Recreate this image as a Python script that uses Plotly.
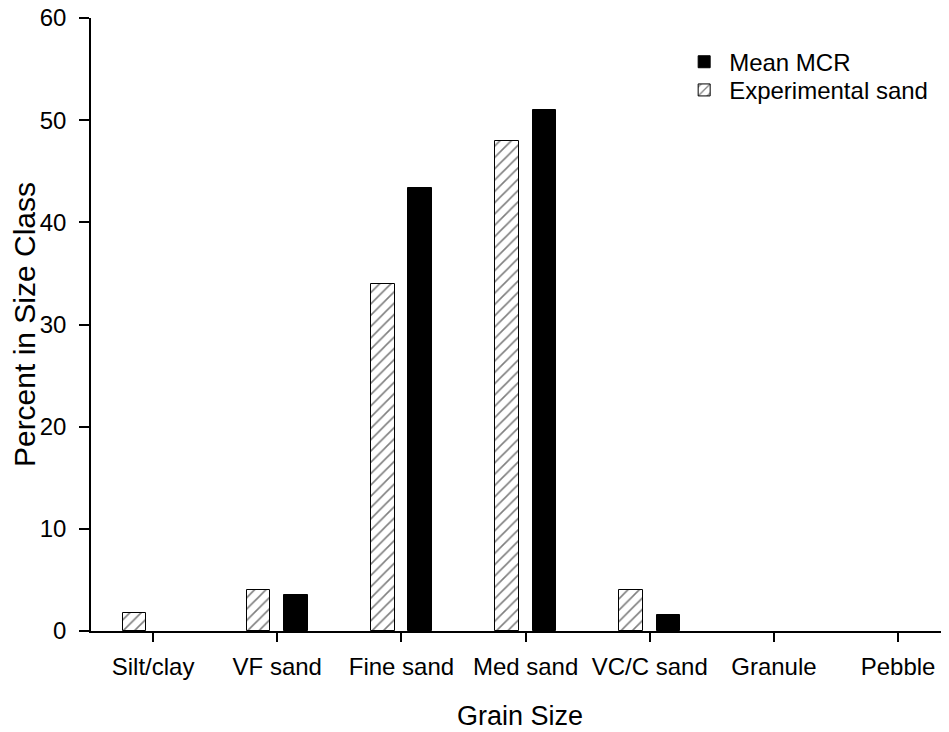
import plotly.graph_objects as go

categories = ["Silt/clay", "VF sand", "Fine sand", "Med sand", "VC/C sand", "Granule", "Pebble"]
experimental_sand = [1.8, 4.0, 34.0, 48.0, 4.0, 0, 0]
mean_mcr = [0, 3.5, 43.4, 51.0, 1.6, 0, 0]
y_ticks = [0, 10, 20, 30, 40, 50, 60]

FONT = "Liberation Sans, Arial, sans-serif"


def drawn(values):
    # zero-height classes draw no bar at all in the reference
    return [v if v > 0 else None for v in values]


fig = go.Figure()
fig.add_trace(go.Bar(
    x=categories, y=drawn(experimental_sand), name="Experimental sand",
    width=0.19, offset=-0.245, legend="legend2",
    marker=dict(color="white", line=dict(color="black", width=1),
                pattern=dict(shape="/", fgcolor="black", bgcolor="white", size=8, solidity=0.2)),
))
fig.add_trace(go.Bar(
    x=categories, y=drawn(mean_mcr), name="Mean MCR",
    width=0.19, offset=0.056, legend="legend",
    marker=dict(color="black", line=dict(color="black", width=1)),
))

legend_style = dict(xanchor="left", yanchor="middle", font=dict(size=24),
                    bgcolor="rgba(0,0,0,0)", itemwidth=40)

fig.update_layout(
    width=949, height=732,
    margin=dict(l=83, r=8, t=10, b=109),
    plot_bgcolor="white", paper_bgcolor="white",
    font=dict(family=FONT, size=24, color="black"),
    showlegend=True,
    legend=dict(x=0.6855, y=0.928, **legend_style),
    legend2=dict(x=0.6855, y=0.882, **legend_style),
    bargap=0,
)
fig.update_xaxes(
    type="category", range=[-0.5, 6.41],
    showline=True, linecolor="black", linewidth=1.5,
    ticks="outside", ticklen=9, tickwidth=1.5, tickcolor="black",
    showgrid=False, zeroline=False, automargin=False,
    ticklabelstandoff=4,
    title=dict(text="Grain Size", font=dict(size=27), standoff=28),
    tickfont=dict(size=24),
)
fig.update_yaxes(
    range=[0, 60], tickvals=y_ticks,
    showline=True, linecolor="black", linewidth=1.5,
    ticks="outside", ticklen=10, tickwidth=1.5, tickcolor="black",
    showgrid=False, zeroline=False, automargin=False,
    ticklabelstandoff=8, ticklabeloverflow="allow",
    title=dict(text="Percent in Size Class", font=dict(size=30), standoff=10),
    tickfont=dict(size=24),
)

fig.write_html("out.html")
